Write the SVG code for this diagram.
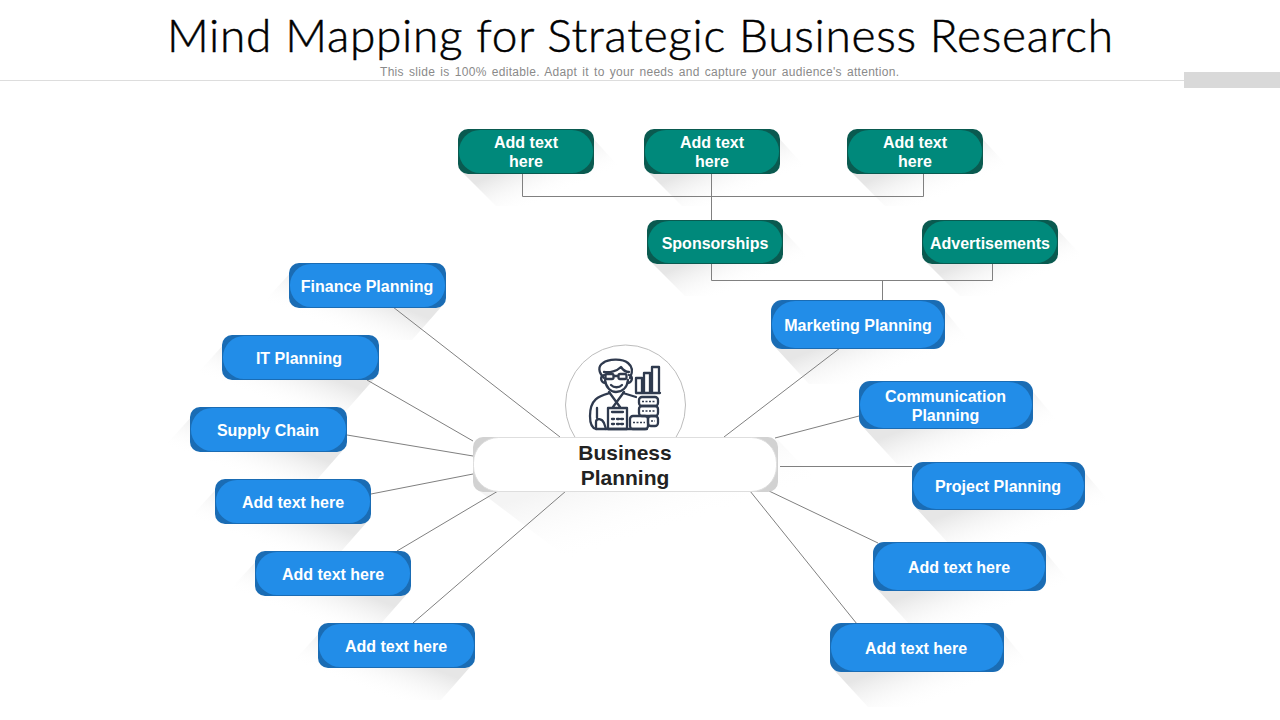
<svg xmlns="http://www.w3.org/2000/svg" width="1280" height="720" viewBox="0 0 1280 720">
<style>
text{font-family:"Liberation Sans",Arial,sans-serif;text-anchor:middle}
.t{font-weight:700;font-size:16px;fill:#fff}
.b1{fill:#1a6cb4}.b2{fill:#228de8}
.g1{fill:#0a5a50}.g2{fill:#00897b}
.sr{fill:url(#sr)}.sl{fill:url(#sl)}.sc{fill:url(#sc)}
.c{fill:none;stroke:#808080;stroke-width:1}
.i{fill:none;stroke:#2f3a4e;stroke-width:2.300;stroke-linejoin:round;stroke-linecap:round}
.k{fill:none;stroke:#2f3a4e;stroke-width:1.500}
</style>
<defs>
<linearGradient id="sr" x1="0" y1="0" x2="1" y2="1"><stop offset=".38" stop-color="#e6e6e6"/><stop offset=".72" stop-color="#fff" stop-opacity="0"/></linearGradient>
<linearGradient id="sl" x1="1" y1="0" x2="0" y2="1"><stop offset=".38" stop-color="#e6e6e6"/><stop offset=".72" stop-color="#fff" stop-opacity="0"/></linearGradient>
<linearGradient id="sc" x1="0" y1="0" x2="1" y2="1"><stop offset=".3" stop-color="#f4f4f4"/><stop offset=".62" stop-color="#fff" stop-opacity="0"/></linearGradient>
</defs>
<rect width="1280" height="720" fill="#fff"/>
<g id="header">
<rect x="0" y="80" width="1184" height="1" fill="#ddd"/>
<rect x="1184" y="72" width="96" height="16" fill="#d9d9d9"/>
<text x="640" y="52" font-size="46" style="font-family:Lato,sans-serif;font-weight:300;stroke:#000;stroke-width:.5" fill="#000" textLength="946" lengthAdjust="spacing">Mind Mapping for Strategic Business Research</text>
<text x="639.500" y="76" font-size="12" fill="#8a8a8a" word-spacing="1.500" textLength="519" lengthAdjust="spacing">This slide is 100% editable. Adapt it to your needs and capture your audience's attention.</text>
</g>
<g id="shadows">
<polygon class="sc" points="478,490 778,440 860,525 570,560"/>
<polygon class="sr" points="462,172 590,135 622,170 622,206 496,206"/>
<polygon class="sr" points="648,172 776,135 808,170 808,206 682,206"/>
<polygon class="sr" points="851,172 979,135 1011,170 1011,206 885,206"/>
<polygon class="sr" points="651,262 779,226 811,260 811,296 685,296"/>
<polygon class="sr" points="926,262 1054,226 1086,260 1086,296 960,296"/>
<polygon class="sl" points="442,306 293,270 261,305 261,340 412,340"/>
<polygon class="sl" points="375,378 226,342 194,377 194,412 345,412"/>
<polygon class="sl" points="343,450 194,414 162,449 162,484 313,484"/>
<polygon class="sl" points="367,522 219,486 187,521 187,556 337,556"/>
<polygon class="sl" points="407,594 259,558 227,593 227,628 377,628"/>
<polygon class="sl" points="471,666 322,630 290,665 290,700 441,700"/>
<polygon class="sr" points="775,347 941,306 973,345 973,384 809,384"/>
<polygon class="sr" points="863,427 1029,387 1061,425 1061,464 897,464"/>
<polygon class="sr" points="916,508 1081,468 1113,506 1113,545 950,545"/>
<polygon class="sr" points="877,589 1042,548 1074,587 1074,626 911,626"/>
<polygon class="sr" points="834,670 1000,629 1032,668 1032,707 868,707"/>
</g>
<g id="connectors">
<path class="c" d="M522.500 174V196.500H923.500V174M711.500 174V220"/>
<path class="c" d="M711.500 264V280.500H992.500V264M882.500 280V300"/>
<path class="c" d="M393 307L560 437M367 380L473 441M347 435L473 456M371 494L473 474M397 551L498 491M413 623L566 491"/>
<path class="c" d="M724 437L840 348M775 438L859 416M780 466.500H912M769 491L878 543M750 491L857 624"/>
</g>
<g id="n-icon">
<circle cx="625.500" cy="405" r="60" fill="#fff" stroke="#bdbdbd"/>
<path class="i" d="M604 378C598 372 598 366 603 363C608 359 622 358 628 363C633 367 633 372 630 378"/>
<path class="i" d="M604 372C610 373 617 371 621 367C623 370 626 372 629 372"/>
<path class="i" d="M604 375C600 376 600 382 605 383M629 375C633 376 633 382 628 383"/>
<path class="i" d="M605 380C606 388 611 392 616 392C622 392 627 388 628 380"/>
<rect class="i" x="605.500" y="374" width="8" height="5" rx="1.500"/><rect class="i" x="618.500" y="374" width="8" height="5" rx="1.500"/>
<path class="i" d="M614 376H618M611 385C614 388 619 388 622 385"/>
<path class="i" d="M609 392L620 407M624 392L613 407M610 393C600 396 590 398 590 416C590 423 592 428 596 429H647"/>
<path class="i" d="M623 393L636 397M597 408V418M596 429V422C596 418 602 418 604 423L606 429"/>
<rect class="i" x="608" y="408" width="19" height="21"/>
<path class="i" d="M612 412H623M612 419H614M617 419H619M621 419H623M612 424H614M617 424H619M621 424H623"/>
<path class="i" d="M636 392.500V378H642V392.500M644 392.500V373H650V392.500M652 392.500V367H659V392.500M636 393H660"/>
<rect class="i" x="639" y="397" width="19" height="9" rx="3"/><rect class="i" x="639" y="406" width="19" height="10" rx="3"/><rect class="i" x="648" y="416" width="10" height="10" rx="3"/>
<rect class="i" x="630" y="416" width="18" height="13" rx="3"/>
<path class="k" d="M642 401.500H655M642 411H655M651 421H655M633 422.500H645" stroke-dasharray="2 1.500"/>
</g>
<g id="n-center">
<rect x="473" y="437" width="305" height="55" rx="10" fill="#d2d2d2"/>
<rect x="473.500" y="437.500" width="303" height="54" rx="25" fill="#fff" stroke="#dedede"/>
<text x="625" y="460" font-size="21" font-weight="700" fill="#222">Business</text>
<text x="625" y="485" font-size="21" font-weight="700" fill="#222">Planning</text>
</g>
<g id="n-top1"><rect class="g1" x="458" y="129" width="136" height="45" rx="10"/><rect class="g2" x="459" y="130" width="134" height="43" rx="21"/><text class="t" x="526" y="148">Add text</text><text class="t" x="526" y="167">here</text></g>
<g id="n-top2"><rect class="g1" x="644" y="129" width="136" height="45" rx="10"/><rect class="g2" x="645" y="130" width="134" height="43" rx="21"/><text class="t" x="712" y="148">Add text</text><text class="t" x="712" y="167">here</text></g>
<g id="n-top3"><rect class="g1" x="847" y="129" width="136" height="45" rx="10"/><rect class="g2" x="848" y="130" width="134" height="43" rx="21"/><text class="t" x="915" y="148">Add text</text><text class="t" x="915" y="167">here</text></g>
<g id="n-sponsor"><rect class="g1" x="647" y="220" width="136" height="44" rx="10"/><rect class="g2" x="648" y="221" width="134" height="42" rx="21"/><text class="t" x="715" y="249">Sponsorships</text></g>
<g id="n-ads"><rect class="g1" x="922" y="220" width="136" height="44" rx="10"/><rect class="g2" x="923" y="221" width="134" height="42" rx="21"/><text class="t" x="990" y="249">Advertisements</text></g>
<g id="n-finance"><rect class="b1" x="289" y="263" width="157" height="45" rx="10"/><rect class="b2" x="290" y="264" width="155" height="43" rx="21"/><text class="t" x="367" y="292">Finance Planning</text></g>
<g id="n-it"><rect class="b1" x="222" y="335" width="157" height="45" rx="10"/><rect class="b2" x="223" y="336" width="155" height="43" rx="21"/><text class="t" x="299" y="364">IT Planning</text></g>
<g id="n-supply"><rect class="b1" x="190" y="407" width="157" height="45" rx="10"/><rect class="b2" x="191" y="408" width="155" height="43" rx="21"/><text class="t" x="268" y="436">Supply Chain</text></g>
<g id="n-l4"><rect class="b1" x="215" y="479" width="156" height="45" rx="10"/><rect class="b2" x="216" y="480" width="154" height="43" rx="21"/><text class="t" x="293" y="508">Add text here</text></g>
<g id="n-l5"><rect class="b1" x="255" y="551" width="156" height="45" rx="10"/><rect class="b2" x="256" y="552" width="154" height="43" rx="21"/><text class="t" x="333" y="580">Add text here</text></g>
<g id="n-l6"><rect class="b1" x="318" y="623" width="157" height="45" rx="10"/><rect class="b2" x="319" y="624" width="155" height="43" rx="21"/><text class="t" x="396" y="652">Add text here</text></g>
<g id="n-marketing"><rect class="b1" x="771" y="300" width="174" height="49" rx="11"/><rect class="b2" x="772" y="301" width="172" height="47" rx="23"/><text class="t" x="858" y="331">Marketing Planning</text></g>
<g id="n-comm"><rect class="b1" x="859" y="381" width="174" height="48" rx="11"/><rect class="b2" x="860" y="382" width="172" height="46" rx="23"/><text class="t" x="945.500" y="402">Communication</text><text class="t" x="945.500" y="421">Planning</text></g>
<g id="n-project"><rect class="b1" x="912" y="462" width="173" height="48" rx="11"/><rect class="b2" x="913" y="463" width="171" height="46" rx="23"/><text class="t" x="998" y="492">Project Planning</text></g>
<g id="n-r4"><rect class="b1" x="873" y="542" width="173" height="49" rx="11"/><rect class="b2" x="874" y="543" width="171" height="47" rx="23"/><text class="t" x="959" y="573">Add text here</text></g>
<g id="n-r5"><rect class="b1" x="830" y="623" width="174" height="49" rx="11"/><rect class="b2" x="831" y="624" width="172" height="47" rx="23"/><text class="t" x="916" y="654">Add text here</text></g>
</svg>
